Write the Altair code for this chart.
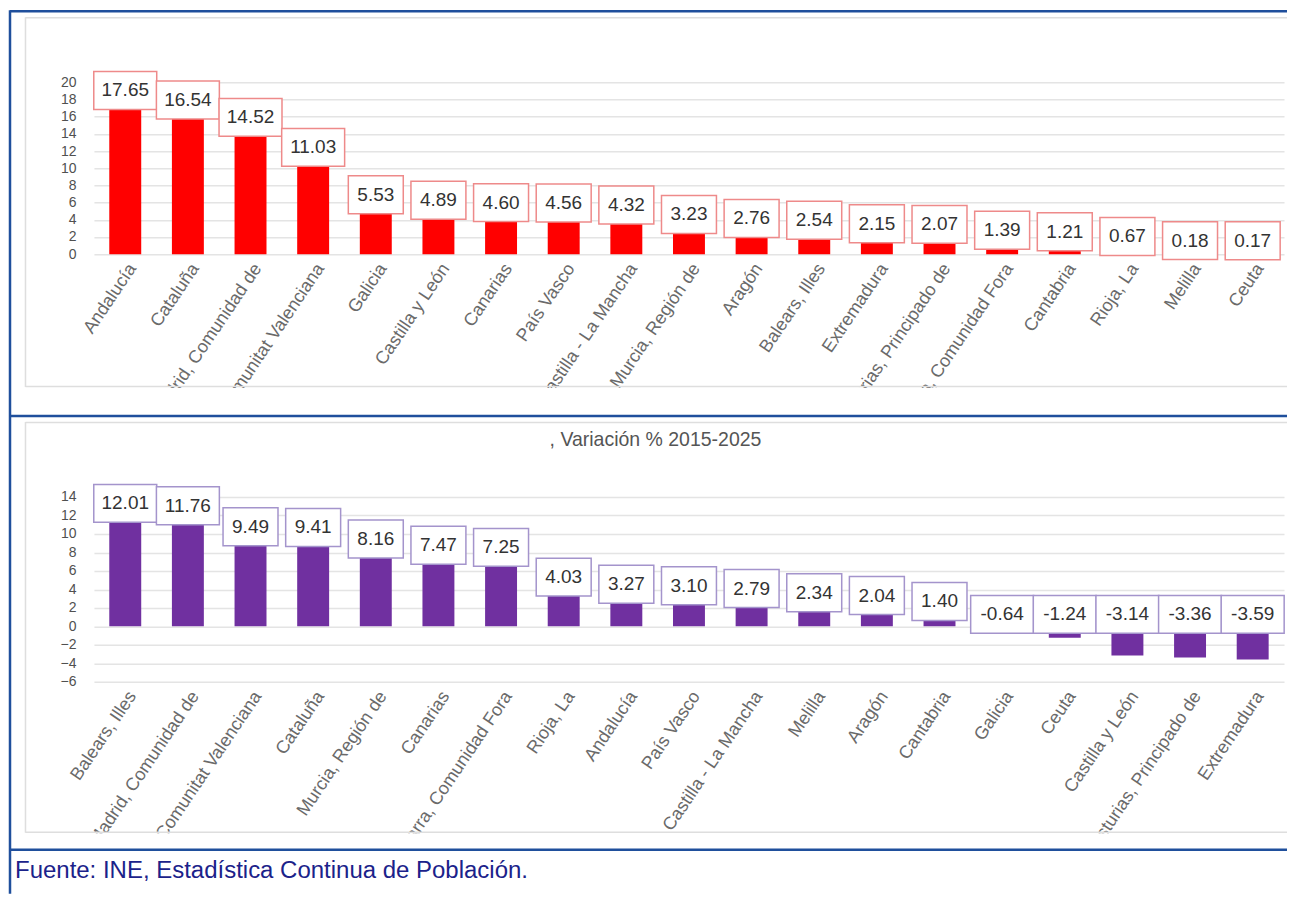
import altair as alt
import pandas as pd

FONT = "Liberation Sans"

# ---------------- data ----------------
top_regions = ["Andalucía", "Cataluña", "Madrid, Comunidad de", "Comunitat Valenciana",
               "Galicia", "Castilla y León", "Canarias", "País Vasco",
               "Castilla - La Mancha", "Murcia, Región de", "Aragón", "Balears, Illes",
               "Extremadura", "Asturias, Principado de", "Navarra, Comunidad Fora",
               "Cantabria", "Rioja, La", "Melilla", "Ceuta"]
top_values = [17.65, 16.54, 14.52, 11.03, 5.53, 4.89, 4.60, 4.56, 4.32, 3.23,
              2.76, 2.54, 2.15, 2.07, 1.39, 1.21, 0.67, 0.18, 0.17]
top_ticks = [0, 2, 4, 6, 8, 10, 12, 14, 16, 18, 20]

bottom_regions = ["Balears, Illes", "Madrid, Comunidad de", "Comunitat Valenciana",
                  "Cataluña", "Murcia, Región de", "Canarias", "Navarra, Comunidad Fora",
                  "Rioja, La", "Andalucía", "País Vasco", "Castilla - La Mancha",
                  "Melilla", "Aragón", "Cantabria", "Galicia", "Ceuta",
                  "Castilla y León", "Asturias, Principado de", "Extremadura"]
bottom_values = [12.01, 11.76, 9.49, 9.41, 8.16, 7.47, 7.25, 4.03, 3.27, 3.10,
                 2.79, 2.34, 2.04, 1.40, -0.64, -1.24, -3.14, -3.36, -3.59]
bottom_ticks = [-6, -4, -2, 0, 2, 4, 6, 8, 10, 12, 14]

bottom_title = ", Variación % 2015-2025"
source_note = "Fuente: INE, Estadística Continua de Población."

# ---------------- style ----------------
W = 1191
BLUE = "#1f4f9c"
PANEL = "#dedede"
GRID = "#e4e4e4"
one = pd.DataFrame({"k": [0]})


def deco_rule(x, x2, y, y2=None, color=BLUE, sw=2.5):
    enc = dict(x=alt.value(x), y=alt.value(y))
    if x2 is not None:
        enc["x2"] = alt.value(x2)
    if y2 is not None:
        enc["y2"] = alt.value(y2)
    return alt.Chart(one).mark_rule(color=color, strokeWidth=sw).encode(**enc)


def deco_mask(x, x2, y, y2):
    return alt.Chart(one).mark_rect(color="white").encode(
        x=alt.value(x), x2=alt.value(x2), y=alt.value(y), y2=alt.value(y2))


def panel(regions, values, ticks, bar_color, box_stroke):
    df = pd.DataFrame({"region": regions, "v": values})
    xscale = alt.Scale(paddingInner=0.49, paddingOuter=0.245)
    yscale = alt.Scale(domain=[ticks[0], ticks[-1]], nice=False, zero=False)
    xax = alt.Axis(title=None, labelAngle=-56, labelFontSize=18,
                   labelColor="#6a6a6a", labelFont=FONT, ticks=False,
                   domain=False, labelPadding=6, labelLimit=400,
                   labelOverlap=False, labelAlign="right",
                   labelBaseline="top", grid=False)
    yax = alt.Axis(values=ticks, title=None, grid=True, gridColor=GRID,
                   gridWidth=1.5, ticks=False, domain=False,
                   labelFontSize=14, labelColor="#505050", labelFont=FONT,
                   labelPadding=18)
    xenc = alt.X("region:N", sort=regions, scale=xscale, axis=xax)
    base = alt.Chart(df).transform_calculate(
        lab="max(datum.v, 0)",
        lbl="(datum.v < 0 ? '-' : '') + format(abs(datum.v), '.2f')")
    bars = base.mark_bar(color=bar_color).encode(
        x=xenc,
        y=alt.Y("v:Q", scale=yscale, axis=yax),
        y2=alt.datum(0))
    box_enc = dict(x=xenc, y=alt.Y("lab:Q", scale=yscale, axis=yax),
                   y2=alt.Y2("lab:Q"))
    box_long = base.transform_filter("length(datum.lbl) >= 5").mark_bar(
        width=63, fill="white", stroke=box_stroke, strokeWidth=1.5,
        yOffset=-31, y2Offset=7).encode(**box_enc)
    box_short = base.transform_filter("length(datum.lbl) < 5").mark_bar(
        width=55, fill="white", stroke=box_stroke, strokeWidth=1.5,
        yOffset=-31, y2Offset=7).encode(**box_enc)
    text = base.mark_text(dy=-12, fontSize=19, color="#333333", font=FONT,
                          baseline="middle").encode(
        x=xenc, y=alt.Y("lab:Q", scale=yscale, axis=yax), text="lbl:N")
    return bars, box_long, box_short, text


# ---------------- top panel ----------------
tb, tbl, tbs, tt = panel(top_regions, top_values, top_ticks, "#ff0000", "#ee8a8a")
top = alt.layer(
    tb,
    deco_mask(-68, 1194, 306, 362),
    deco_rule(-68.5, None, -65, 305, color=PANEL, sw=1.5),
    deco_rule(-68.5, 1194, -64.5, color=PANEL, sw=1.5),
    deco_rule(-68.5, 1194, 304.5, color=PANEL, sw=1.5),
    tbl, tbs, tt,
    deco_rule(-84, 1194, -71),
    deco_rule(-84, None, -72, 812),
    deco_rule(-84, 1194, 334),
).properties(width=W, height=172)

# ---------------- bottom panel ----------------
bb, bbl, bbs, bt = panel(bottom_regions, bottom_values, bottom_ticks,
                         "#7030a0", "#a494cc")
title_mark = alt.Chart(one).mark_text(fontSize=19.5, color="#555555", font=FONT,
                                      align="center", baseline="alphabetic").encode(
    x=alt.value(562), y=alt.value(-51), text=alt.value(bottom_title))
footer = alt.Chart(one).mark_text(fontSize=24, color="#1b228a", font=FONT,
                                  align="left", baseline="alphabetic").encode(
    x=alt.value(-79), y=alt.value(381), text=alt.value(source_note))
bottom = alt.layer(
    bb,
    deco_mask(-68, 1194, 336.5, 385),
    deco_rule(-68.5, None, -75, 336, color=PANEL, sw=1.5),
    deco_rule(-68.5, 1194, -74.5, color=PANEL, sw=1.5),
    deco_rule(-68.5, 1194, 335.5, color=PANEL, sw=1.5),
    bbl, bbs, bt, title_mark,
    deco_rule(-84, 1194, 353),
    footer,
).properties(width=W, height=185)

chart = alt.vconcat(top, bottom, spacing=243, bounds="flush").properties(
    padding=0, background="white"
).configure_view(stroke=None)

chart.save("out.html", embed_options={"renderer": "svg", "actions": False})
